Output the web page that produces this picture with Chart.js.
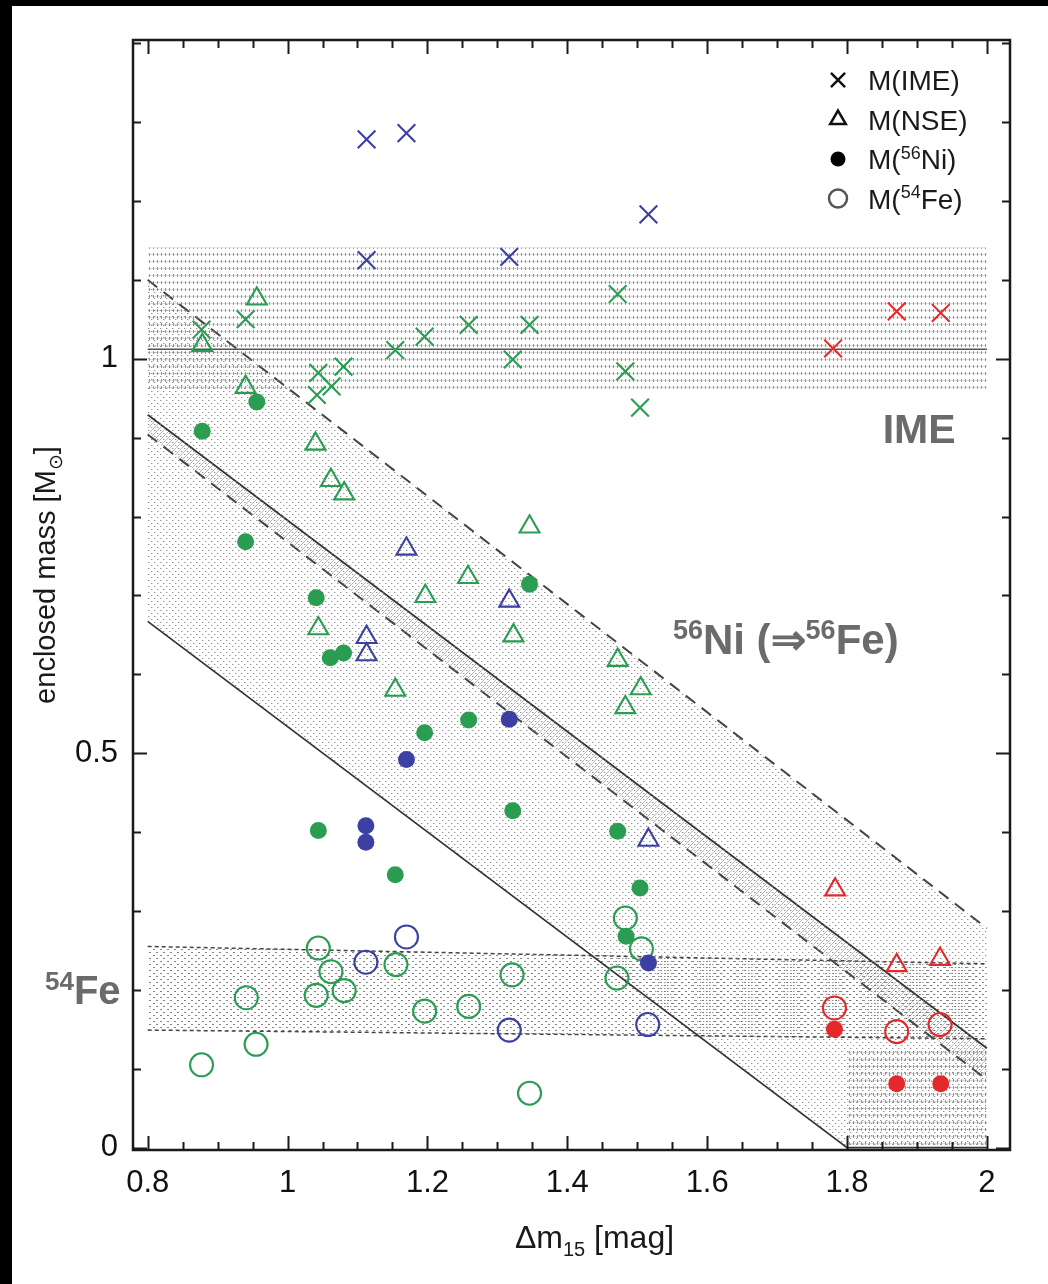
<!DOCTYPE html>
<html>
<head>
<meta charset="utf-8">
<script src="https://cdn.jsdelivr.net/npm/chart.js@4.4.1/dist/chart.umd.min.js"></script>
<style>
  html, body { margin: 0; padding: 0; background: #fff; overflow: hidden; }
  #wrap { position: absolute; left: 0; top: 0; width: 1036px; height: 1278px; background: #fff;
          border-top: 6px solid #000; border-left: 12px solid #000; }
  canvas { display: block; }
</style>
</head>
<body>
<div id="wrap"><canvas id="chart" width="1036" height="1278"></canvas></div>
<script>
// tick labels
const xTicks = [0.8, 1, 1.2, 1.4, 1.6, 1.8, 2];
const yTicks = [0, 0.5, 1];

// model bands (x ends, enclosed mass at the ends)
const bandEnds = [0.8, 2.0];
const imeLower = [0.962, 0.962];
const imeUpper = [1.141, 1.141];
const imeMean = [1.012, 1.012];
const niUpperDash = [1.100, 0.278];
const niUpperSolid = [0.929, 0.126];
const niLowerDash = [0.904, 0.086];
const niLowerX = [0.8, 1.8, 2.0];
const niLowerSolid = [0.667, 0, 0];
const feUpper = [0.255, 0.233];
const feLower = [0.149, 0.138];
const cornerX = [1.8, 2.0];
const cornerBottom = [0, 0];
const cornerTop = [0.127, 0.127];

// [dm15, mass]
const imeGreen = [[0.877, 1.037], [0.940, 1.050], [1.044, 0.982], [1.080, 0.990], [1.063, 0.965], [1.042, 0.954], [1.154, 1.011], [1.196, 1.028], [1.259, 1.043], [1.346, 1.043], [1.322, 0.999], [1.472, 1.082], [1.483, 0.984], [1.504, 0.938]];
const imeBlue = [[1.113, 1.278], [1.170, 1.286], [1.516, 1.183], [1.113, 1.125], [1.317, 1.129]];
const imeRed = [[1.780, 1.013], [1.871, 1.060], [1.934, 1.058]];

const nseGreen = [[0.956, 1.076], [0.878, 1.017], [0.940, 0.964], [1.040, 0.892], [1.062, 0.846], [1.081, 0.829], [1.346, 0.787], [1.258, 0.723], [1.197, 0.699], [1.323, 0.649], [1.044, 0.658], [1.154, 0.580], [1.472, 0.618], [1.505, 0.582], [1.483, 0.558]];
const nseBlue = [[1.170, 0.759], [1.317, 0.693], [1.113, 0.647], [1.113, 0.625], [1.516, 0.390]];
const nseRed = [[1.783, 0.327], [1.871, 0.231], [1.933, 0.239]];

const niGreen = [[0.956, 0.945], [0.878, 0.908], [0.940, 0.768], [1.041, 0.697], [1.061, 0.621], [1.080, 0.627], [1.346, 0.714], [1.259, 0.542], [1.196, 0.526], [1.322, 0.427], [1.044, 0.402], [1.154, 0.346], [1.472, 0.401], [1.504, 0.329], [1.484, 0.268]];
const niBlue = [[1.317, 0.543], [1.170, 0.492], [1.112, 0.408], [1.112, 0.387], [1.516, 0.234]];
const niRed = [[1.782, 0.150], [1.871, 0.081], [1.934, 0.081]];

const feGreen = [[0.877, 0.105], [0.955, 0.131], [0.941, 0.190], [1.044, 0.253], [1.062, 0.223], [1.041, 0.193], [1.081, 0.199], [1.155, 0.232], [1.196, 0.173], [1.259, 0.179], [1.321, 0.219], [1.346, 0.069], [1.483, 0.291], [1.506, 0.252], [1.471, 0.215]];
const feBlue = [[1.112, 0.235], [1.170, 0.267], [1.317, 0.149], [1.515, 0.156]];
const feRed = [[1.782, 0.177], [1.871, 0.147], [1.933, 0.156]];

const GREEN = '#2a9d52';
const BLUE = '#3b40a2';
const RED = '#e3292b';
const FONT = '"Liberation Sans", Arial, Helvetica, sans-serif';
const LABEL_GRAY = '#6b6b6b';

function pts(xs, ys) {
  return xs.map((x, i) => ({ x, y: ys[i] }));
}
function pairs(arr) {
  return arr.map(([x, y]) => ({ x, y }));
}

function makePattern(w, h, draw) {
  const c = document.createElement('canvas');
  c.width = w;
  c.height = h;
  const g = c.getContext('2d');
  draw(g);
  return g.createPattern(c, 'repeat');
}

// rows of tiny dashes
const gridPattern = makePattern(4, 7, g => {
  g.fillStyle = 'rgba(95,95,95,0.65)';
  g.fillRect(1, 2, 1, 3);
  g.fillStyle = 'rgba(150,150,150,0.35)';
  g.fillRect(0, 3, 4, 1);
});
// staggered dots
const dotPattern = makePattern(6, 6, g => {
  g.fillStyle = 'rgba(100,100,100,0.7)';
  g.fillRect(1, 1, 1, 1);
  g.fillRect(4, 4, 1, 1);
  g.fillStyle = 'rgba(150,150,150,0.4)';
  g.fillRect(2, 1, 1, 1);
  g.fillRect(5, 4, 1, 1);
});
const feDotPattern = makePattern(7, 6, g => {
  g.fillStyle = 'rgba(90,90,90,0.75)';
  g.fillRect(1, 1, 2, 1);
  g.fillRect(4, 4, 2, 1);
});
const hatchPattern = makePattern(6, 6, g => {
  g.strokeStyle = 'rgba(110,110,110,0.5)';
  g.lineWidth = 1;
  g.beginPath();
  g.moveTo(0, 6);
  g.lineTo(6, 0);
  g.stroke();
});

function band(label, xs, ys, opts) {
  return Object.assign({
    type: 'line',
    label,
    data: pts(xs, ys),
    pointRadius: 0,
    borderWidth: 0,
    borderColor: 'rgba(0,0,0,0)',
    fill: false,
    tension: 0,
    order: 10
  }, opts);
}

function markers(label, arr, style, color, radius, kind) {
  return {
    label,
    data: pairs(arr),
    pointStyle: style,
    pointRadius: radius,
    borderColor: color,
    backgroundColor: kind === 'filled' ? color : 'rgba(0,0,0,0)',
    borderWidth: kind === 'filled' ? 0 : 2.1,
    order: 0
  };
}

const datasets = [
  band('IME low', bandEnds, imeLower),
  band('IME high', bandEnds, imeUpper, { fill: '-1', backgroundColor: gridPattern }),
  band('IME mean', bandEnds, imeMean, { borderWidth: 1.5, borderColor: '#555' }),
  band('Ni lower', niLowerX, niLowerSolid, { borderWidth: 1.7, borderColor: '#333' }),
  band('Ni upper', bandEnds, niUpperDash, { fill: '-1', backgroundColor: dotPattern, borderWidth: 2, borderColor: '#444', borderDash: [12, 8] }),
  band('Ni mid solid', bandEnds, niUpperSolid, { borderWidth: 1.7, borderColor: '#333' }),
  band('Ni mid dash', bandEnds, niLowerDash, { fill: '-1', backgroundColor: hatchPattern, borderWidth: 2, borderColor: '#444', borderDash: [12, 8] }),
  band('Fe low', bandEnds, feLower, { borderWidth: 1.5, borderColor: '#444', borderDash: [4, 3] }),
  band('Fe high', bandEnds, feUpper, { fill: '-1', backgroundColor: feDotPattern, borderWidth: 1.5, borderColor: '#444', borderDash: [4, 3] }),
  band('corner low', cornerX, cornerBottom),
  band('corner high', cornerX, cornerTop, { fill: '-1', backgroundColor: gridPattern }),

  markers('M(IME) green', imeGreen, 'crossRot', GREEN, 12.5, 'line'),
  markers('M(IME) blue', imeBlue, 'crossRot', BLUE, 12.5, 'line'),
  markers('M(IME) red', imeRed, 'crossRot', RED, 12.5, 'line'),
  markers('M(NSE) green', nseGreen, 'triangle', GREEN, 11.5, 'open'),
  markers('M(NSE) blue', nseBlue, 'triangle', BLUE, 11.5, 'open'),
  markers('M(NSE) red', nseRed, 'triangle', RED, 11.5, 'open'),
  markers('M(56Ni) green', niGreen, 'circle', GREEN, 8.5, 'filled'),
  markers('M(56Ni) blue', niBlue, 'circle', BLUE, 8.5, 'filled'),
  markers('M(56Ni) red', niRed, 'circle', RED, 8.5, 'filled'),
  markers('M(54Fe) green', feGreen, 'circle', GREEN, 11.5, 'open'),
  markers('M(54Fe) blue', feBlue, 'circle', BLUE, 11.5, 'open'),
  markers('M(54Fe) red', feRed, 'circle', RED, 11.5, 'open')
];

// text with super/subscripts
function richText(ctx, parts, x, y, size, weight, align) {
  const fontFor = p => `${weight} ${(p.sup || p.sub) ? Math.round(size * 0.64) : size}px ${FONT}`;
  const widths = parts.map(p => {
    ctx.font = fontFor(p);
    return ctx.measureText(p.t).width;
  });
  const total = widths.reduce((a, b) => a + b, 0);
  let cx = align === 'center' ? x - total / 2 : x;
  ctx.textAlign = 'left';
  ctx.textBaseline = 'alphabetic';
  parts.forEach((p, i) => {
    ctx.font = fontFor(p);
    const dy = p.sup ? -size * 0.36 : p.sub ? size * 0.24 : 0;
    ctx.fillText(p.t, cx, y + dy);
    cx += widths[i];
  });
}

const frame = {
  id: 'frame',
  afterDraw(chart) {
    const { ctx, chartArea: a, scales } = chart;
    const sx = scales.x, sy = scales.y;
    ctx.save();
    ctx.strokeStyle = '#1a1a1a';
    ctx.lineWidth = 2;
    // inward ticks on all four sides
    for (let i = 0; i <= 24; i++) {
      const v = 0.8 + i * 0.05;
      const px = Math.round(sx.getPixelForValue(v)) + 0.5;
      const len = i % 4 === 0 ? 14 : 8;
      ctx.beginPath();
      ctx.moveTo(px, a.bottom);
      ctx.lineTo(px, a.bottom - len);
      ctx.moveTo(px, a.top);
      ctx.lineTo(px, a.top + len);
      ctx.stroke();
    }
    for (let i = 0; i <= 14; i++) {
      const v = i * 0.1;
      const py = Math.round(sy.getPixelForValue(v)) + 0.5;
      const len = i % 5 === 0 ? 14 : 8;
      ctx.beginPath();
      ctx.moveTo(a.left, py);
      ctx.lineTo(a.left + len, py);
      ctx.moveTo(a.right, py);
      ctx.lineTo(a.right - len, py);
      ctx.stroke();
    }
    ctx.lineWidth = 2.5;
    ctx.strokeRect(a.left, a.top, a.right - a.left, a.bottom - a.top);

    // axis titles
    ctx.fillStyle = '#1a1a1a';
    richText(ctx, [{ t: '\u0394m' }, { t: '15', sub: true }, { t: ' [mag]' }], (a.left + a.right) / 2 + 23, 1242, 32, 'normal', 'center');
    ctx.save();
    ctx.translate(43, 569);
    ctx.rotate(-Math.PI / 2);
    richText(ctx, [{ t: 'enclosed mass [M' }, { t: '\u2299', sub: true }, { t: ']' }], 0, 0, 29, 'normal', 'center');
    ctx.restore();

    // legend
    const lx = a.right - 172;
    const tx = a.right - 142;
    const rows = [
      { style: 'crossRot', r: 10, fill: false, parts: [{ t: 'M(IME)' }] },
      { style: 'triangle', r: 9, fill: false, parts: [{ t: 'M(NSE)' }] },
      { style: 'circle', r: 7.5, fill: true, parts: [{ t: 'M(' }, { t: '56', sup: true }, { t: 'Ni)' }] },
      { style: 'circle', r: 9, fill: false, parts: [{ t: 'M(' }, { t: '54', sup: true }, { t: 'Fe)' }] }
    ];
    rows.forEach((row, i) => {
      const y = a.top + 40 + i * 39.5;
      ctx.strokeStyle = row.fill ? '#000' : (row.style === 'circle' ? '#555' : '#111');
      ctx.fillStyle = row.fill ? '#000' : 'rgba(0,0,0,0)';
      Chart.helpers.drawPoint(ctx, { pointStyle: row.style, radius: row.r, borderWidth: row.fill ? 0 : 1.8, rotation: 0 }, lx, y);
      ctx.fillStyle = '#1a1a1a';
      richText(ctx, row.parts, tx, y + 10, 28, 'normal', 'left');
    });

    // region labels
    ctx.fillStyle = LABEL_GRAY;
    richText(ctx, [{ t: 'IME' }], sx.getPixelForValue(1.903), sy.getPixelForValue(0.893), 41, 'bold', 'center');
    richText(ctx, [{ t: '56', sup: true }, { t: 'Ni (\u21D2' }, { t: '56', sup: true }, { t: 'Fe)' }],
      sx.getPixelForValue(1.551), sy.getPixelForValue(0.626), 42, 'bold', 'left');
    richText(ctx, [{ t: '54', sup: true }, { t: 'Fe' }], 33, sy.getPixelForValue(0.182), 40, 'bold', 'left');
    ctx.restore();
  }
};

new Chart(document.getElementById('chart'), {
  type: 'scatter',
  data: { datasets },
  options: {
    responsive: false,
    animation: false,
    events: [],
    layout: { padding: { left: 0, top: 34, right: 38, bottom: 0 } },
    plugins: { legend: { display: false }, tooltip: { enabled: false } },
    scales: {
      x: {
        type: 'linear',
        min: 0.779,
        max: 2.033,
        grid: { display: false, drawTicks: false },
        border: { display: false },
        afterFit(s) { s.height = 134; },
        afterBuildTicks(s) { s.ticks = xTicks.map(v => ({ value: v })); },
        ticks: {
          padding: 15,
          color: '#111',
          font: { family: FONT, size: 31 },
          callback: v => String(Math.round(v * 10) / 10)
        }
      },
      y: {
        type: 'linear',
        min: -0.003,
        max: 1.404,
        grid: { display: false, drawTicks: false },
        border: { display: false },
        afterFit(s) { s.width = 121; },
        afterBuildTicks(s) { s.ticks = yTicks.map(v => ({ value: v })); },
        ticks: {
          padding: 15,
          color: '#111',
          font: { family: FONT, size: 31 },
          callback: v => String(Math.round(v * 10) / 10)
        }
      }
    }
  },
  plugins: [frame]
});
</script>
</body>
</html>
